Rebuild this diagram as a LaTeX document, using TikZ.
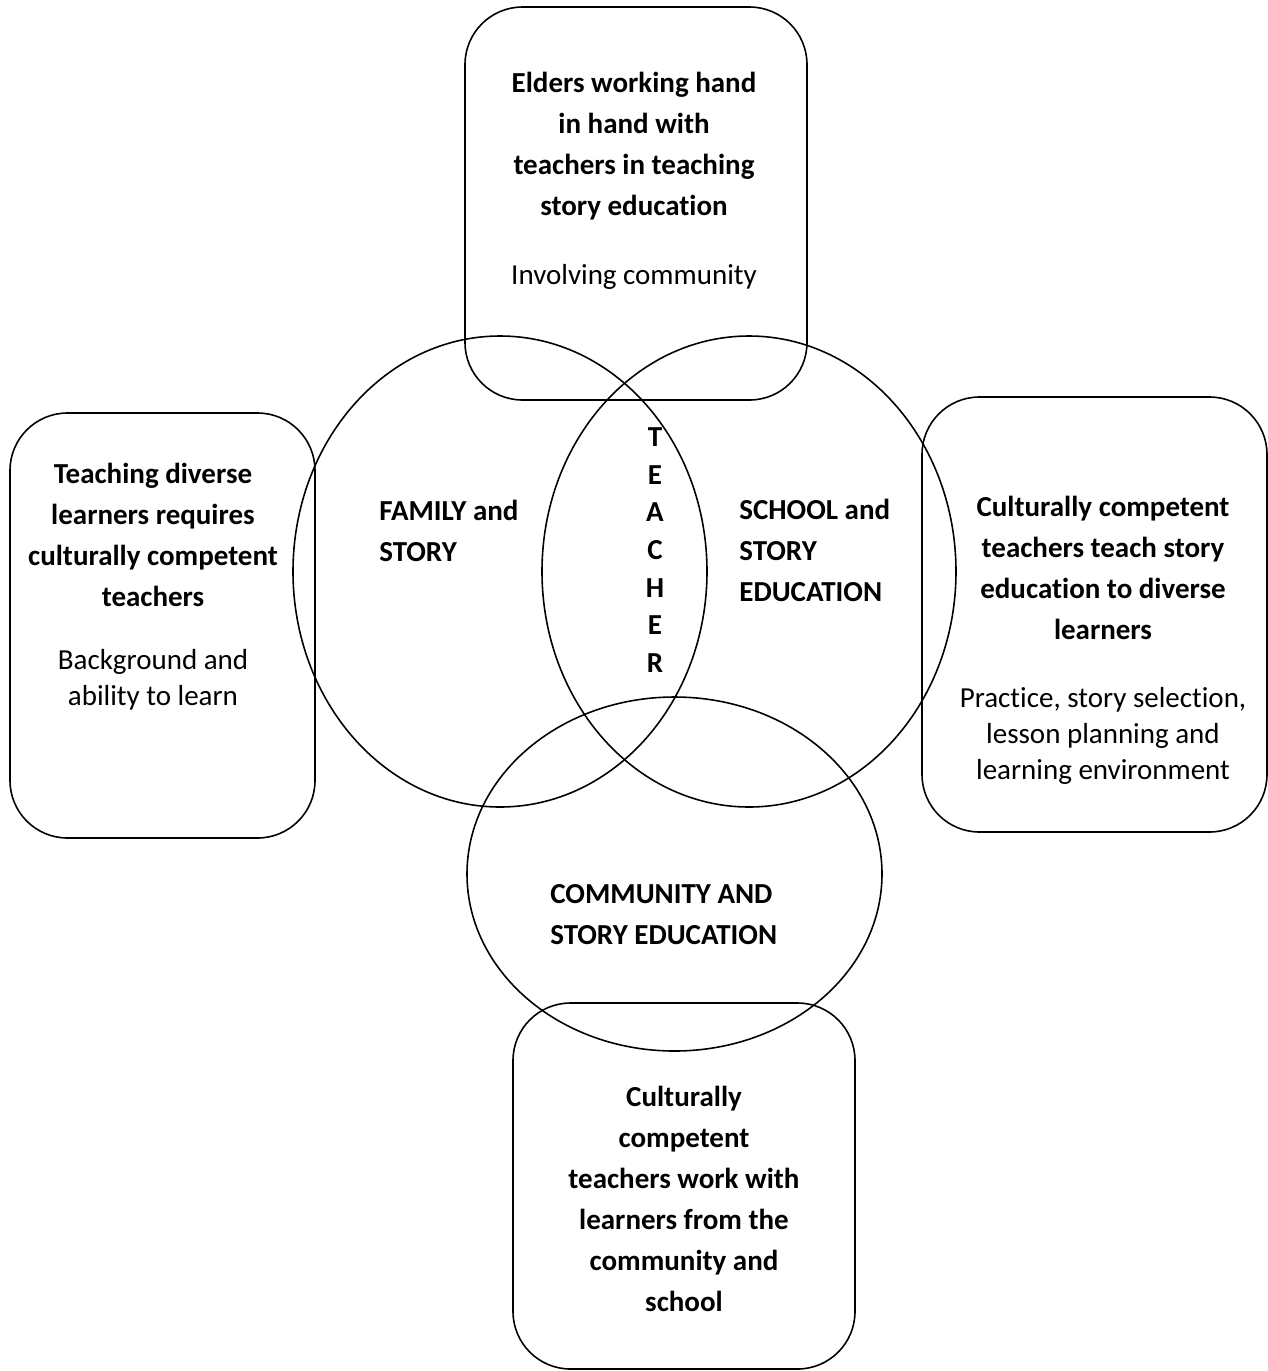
\documentclass[tikz,border=0pt]{standalone}
\usepackage{fontspec}
\setmainfont{Carlito}[Ligatures=NoCommon]
\usepackage{tikz}

\begin{document}
\begin{tikzpicture}[x=0.2mm, y=-0.2mm,
    panel/.style={draw, line width=0.9pt, rounded corners=11.5mm},
    ring/.style={draw, line width=0.9pt},
    head/.style={font=\bfseries\fontsize{16.5}{23.3}\selectfont, align=center, inner sep=0pt},
    note/.style={font=\fontsize{16.5}{20.4}\selectfont, align=center, inner sep=0pt},
    zone/.style={font=\bfseries\fontsize{16.5}{23.3}\selectfont, align=left, inner sep=0pt, anchor=west}]
    \useasboundingbox (0,0) rectangle (1268,1371);

    % Outer boxes
    \draw[panel] (465,7) rectangle (807,400);
    \draw[panel] (10,413) rectangle (315,838);
    \draw[panel] (922,397) rectangle (1267,832);
    \draw[panel] (513,1003) rectangle (855,1369);

    % Circles
    \draw[ring] (500,571.5) ellipse [x radius=41.4mm, y radius=47.1mm];
    \draw[ring] (749,571.5) ellipse [x radius=41.4mm, y radius=47.1mm];
    \draw[ring] (674.5,874) ellipse [x radius=41.5mm, y radius=35.4mm];

    % Box texts
    \node[head] (elders) at (634,146) {Elders working hand\\in hand with\\teachers in teaching\\story education};
    \node[note] (involve) at (634,277) {Involving community};
    \node[head] (diverse) at (153,535) {Teaching diverse\\learners requires\\culturally competent\\teachers};
    \node[note] (ability) at (153,680) {Background and\\ability to learn};
    \node[head] (teach) at (1103,568) {Culturally competent\\teachers teach story\\education to diverse\\learners};
    \node[note] (practice) at (1103,736) {Practice, story selection,\\lesson planning and\\learning environment};
    \node[head] (work) at (684,1199) {Culturally\\competent\\teachers work with\\learners from the\\community and\\school};

    % Circle texts
    \node[zone] (family) at (379,531) {FAMILY and\\STORY};
    \node[zone] (school) at (739,550) {SCHOOL and\\STORY\\EDUCATION};
    \node[zone] (community) at (550,915) {COMMUNITY AND\\STORY EDUCATION};
    \node[head, font=\bfseries\fontsize{16.5}{21.4}\selectfont] (teacher) at (655,550) {T\\E\\A\\C\\H\\E\\R};
\end{tikzpicture}
\end{document}
